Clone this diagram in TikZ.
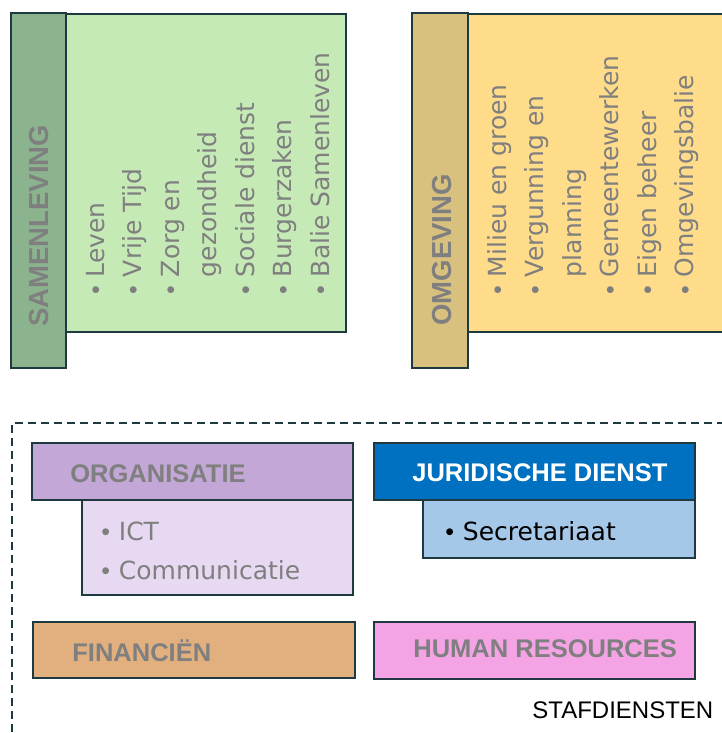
\documentclass[tikz,border=0pt]{standalone}
\usepackage{fontspec}
\setmainfont{DejaVu Sans}
\newfontfamily\headfont{Liberation Sans}

\definecolor{edge}{HTML}{1E3A40}
\definecolor{txtgray}{HTML}{7F7F7F}
\definecolor{samDark}{HTML}{8BB48E}
\definecolor{samLight}{HTML}{C5EAB5}
\definecolor{omgDark}{HTML}{D8C07F}
\definecolor{omgLight}{HTML}{FEDC89}
\definecolor{orgHead}{HTML}{C3A7D7}
\definecolor{orgSub}{HTML}{E7D9F1}
\definecolor{finHead}{HTML}{E2B07E}
\definecolor{jurHead}{HTML}{0070C0}
\definecolor{jurSub}{HTML}{A6C8E8}
\definecolor{hrHead}{HTML}{F4A3E4}

\newcommand{\bul}{{\headfont\textbullet}\hspace{0.35em}}

\tikzset{
  unitbox/.style={draw=edge, line width=0.75pt},
  headtext/.style={font=\headfont\bfseries\fontsize{12.75}{15}\selectfont, text=txtgray, inner sep=0pt, anchor=base west},
  vheadtext/.style={headtext, font=\headfont\bfseries\fontsize{13.75}{16}\selectfont, rotate=90},
  itemtext/.style={font=\fontsize{12.5}{15}\selectfont, text=txtgray, inner sep=0pt, anchor=base west},
  vitemtext/.style={itemtext, rotate=90}
}

\begin{document}
\begin{tikzpicture}[x=0.5pt, y=-0.5pt]
  \useasboundingbox (0,0) rectangle (722,733);

  % samenleving
  \draw[unitbox, fill=samLight] (66,14) rectangle (346,332);
  \draw[unitbox, fill=samDark] (11,13) rectangle (66,368);
  \node[vheadtext] (samTitle) at (48,327) {SAMENLEVING};
  \node[vitemtext] (samLeven) at (104,295) {\bul Leven};
  \node[vitemtext] (samVrije) at (141.5,295) {\bul Vrije Tijd};
  \node[vitemtext] (samZorg) at (179,295) {\bul Zorg en};
  \node[vitemtext] (samZorgb) at (216.5,277.5) {gezondheid};
  \node[vitemtext] (samSociaal) at (254,295) {\bul Sociale dienst};
  \node[vitemtext] (samBurger) at (291.5,295) {\bul Burgerzaken};
  \node[vitemtext] (samBalie) at (329,295) {\bul Balie Samenleven};

  % omgeving
  \draw[unitbox, fill=omgLight] (468,14) rectangle (740,332);
  \draw[unitbox, fill=omgDark] (412,13) rectangle (468,368);
  \node[vheadtext] (omgTitle) at (451,326) {OMGEVING};
  \node[vitemtext] (omgMilieu) at (506,295) {\bul Milieu en groen};
  \node[vitemtext] (omgVerg) at (543.5,295) {\bul Vergunning en};
  \node[vitemtext] (omgVergb) at (581,277.5) {planning};
  \node[vitemtext] (omgWerken) at (618.5,295) {\bul Gemeentewerken};
  \node[vitemtext] (omgBeheer) at (656,295) {\bul Eigen beheer};
  \node[vitemtext] (omgBalie) at (693.5,295) {\bul Omgevingsbalie};

  % stafdiensten
  \draw[edge, line width=1.1pt, dash pattern=on 4pt off 2.5pt] (12,745) -- (12,423) -- (740,423);

  \draw[unitbox, fill=orgSub] (82,500) rectangle (353,595);
  \draw[unitbox, fill=orgHead] (32,443) rectangle (353,500);
  \node[headtext] (orgTitle) at (70,482) {ORGANISATIE};
  \node[itemtext] (orgIct) at (101,540) {\bul ICT};
  \node[itemtext] (orgComm) at (101,579) {\bul Communicatie};

  \draw[unitbox, fill=jurSub] (423,500) rectangle (695,558);
  \draw[unitbox, fill=jurHead] (374,443) rectangle (695,500);
  \node[headtext, text=white] (jurTitle) at (412,481) {JURIDISCHE DIENST};
  \node[itemtext, text=black] (jurSecr) at (445,540) {\bul Secretariaat};

  \draw[unitbox, fill=finHead] (33,622) rectangle (355,678);
  \node[headtext] (finTitle) at (72,661) {FINANCIËN};

  \draw[unitbox, fill=hrHead] (374,622) rectangle (695,679);
  \node[headtext] (hrTitle) at (413,657) {HUMAN RESOURCES};

  \node[itemtext, font=\headfont\fontsize{12}{14}\selectfont, text=black] (stafLabel) at (532,718) {STAFDIENSTEN};
\end{tikzpicture}
\end{document}
